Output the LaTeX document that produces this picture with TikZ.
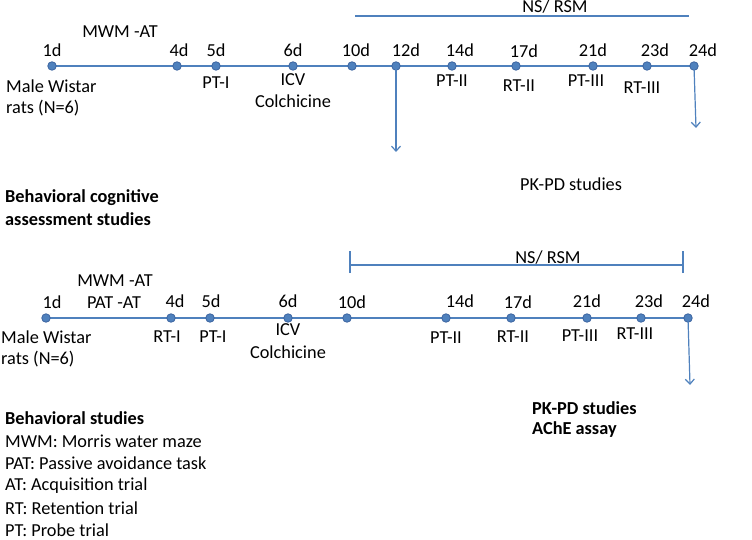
\documentclass[tikz,border=0pt]{standalone}
\usepackage{fontspec}
\setmainfont{Carlito}
\usetikzlibrary{arrows.meta}
\definecolor{lineblue}{RGB}{79,129,189}
\definecolor{dotblue}{RGB}{60,100,160}
\begin{document}
\begin{tikzpicture}[x=1pt,y=-1pt,
  txt/.style={font=\fontsize{18.3}{22}\selectfont, inner sep=0pt, text=black},
  btxt/.style={txt, font=\fontsize{18.3}{22}\selectfont\bfseries},
  dot/.style={circle, fill=lineblue, draw=dotblue, line width=0.8pt, minimum size=8.5pt, inner sep=0pt},
  tl/.style={draw=lineblue, line width=1.5pt},
  arr/.style={draw=lineblue, line width=1.2pt, -{Straight Barb[length=5pt,width=9pt]}}
]
\useasboundingbox (0,0) rectangle (752,540);
% ---------- top timeline ----------
\coordinate (a0) at (52,66);
\coordinate (a1) at (694,66);
\draw[tl] (a0) -- (a1);
\foreach \n/\x in {1/52,4/177,5/216,6/293,10/352,12/396,14/452,17/516,21/593,23/647,24/694}
  \node[dot] (a\n d) at (\x,66) {};
\node[txt] (la1) at (52,50) {1d};
\node[txt] (la4) at (179,50) {4d};
\node[txt] (la5) at (216,50) {5d};
\node[txt] (la6) at (293,50) {6d};
\node[txt] (la10) at (356,50) {10d};
\node[txt] (la12) at (406,50) {12d};
\node[txt] (la14) at (460,50) {14d};
\node[txt] (la17) at (524,51) {17d};
\node[txt] (la21) at (593,50) {21d};
\node[txt] (la23) at (655,50) {23d};
\node[txt] (la24) at (703,50) {24d};
\node[txt] (mwma) at (120,32) {MWM -AT};
\node[txt, anchor=west] (ma1) at (6,86) {Male Wistar};
\node[txt, anchor=west] (ma2) at (6,108) {rats (N=6)};
\node[txt] (pta1) at (216,83) {PT-I};
\node[txt] (icva) at (293,80) {ICV};
\node[txt] (cola) at (293,101) {Colchicine};
\node[txt] (pta2) at (452,81) {PT-II};
\node[txt] (rta2) at (519,86) {RT-II};
\node[txt] (pta3) at (586,81) {PT-III};
\node[txt] (rta3) at (642,88) {RT-III};
\coordinate (nsa0) at (355,16);
\coordinate (nsa1) at (689,16);
\draw[draw=lineblue, line width=1.2pt] (nsa0) -- (nsa1);
\node[txt] (nsa) at (555,7) {NS/ RSM};
\coordinate (arA) at (396,152);
\coordinate (arB) at (696,128);
\draw[arr] (a12d.center) -- (arA);
\draw[arr] (a24d.center) -- (arB);
\node[txt] (pkpda) at (571,184) {PK-PD studies};
\node[btxt, anchor=west] (bca1) at (5,198) {Behavioral cognitive};
\node[btxt, anchor=west] (bca2) at (5,219) {assessment studies};
% ---------- bottom timeline ----------
\coordinate (b0) at (46,318);
\coordinate (b1) at (688,318);
\draw[tl] (b0) -- (b1);
\foreach \n/\x in {1/46,4/171,5/210,6/288,10/347,14/446,17/511,21/587,23/641,24/688}
  \node[dot] (b\n d) at (\x,318) {};
\node[txt] (lb1) at (52,302) {1d};
\node[txt] (lb4) at (175,301) {4d};
\node[txt] (lb5) at (211,301) {5d};
\node[txt] (lb6) at (288,301) {6d};
\node[txt] (lb10) at (352,302) {10d};
\node[txt] (lb14) at (460,301) {14d};
\node[txt] (lb17) at (518,302) {17d};
\node[txt] (lb21) at (587,301) {21d};
\node[txt] (lb23) at (649,301) {23d};
\node[txt] (lb24) at (696,301) {24d};
\node[txt] (mwmb) at (115,281) {MWM -AT};
\node[txt] (patb) at (114,303) {PAT -AT};
\node[txt, anchor=west] (mb1) at (1,337) {Male Wistar};
\node[txt, anchor=west] (mb2) at (1,359) {rats (N=6)};
\node[txt] (rtb1) at (167,337) {RT-I};
\node[txt] (ptb1) at (213,337) {PT-I};
\node[txt] (icvb) at (288,330) {ICV};
\node[txt] (colb) at (288,352) {Colchicine};
\node[txt] (ptb2) at (446,338) {PT-II};
\node[txt] (rtb2) at (513,337) {RT-II};
\node[txt] (ptb3) at (580,336) {PT-III};
\node[txt] (rtb3) at (635,334) {RT-III};
\coordinate (nsb0) at (350,265);
\coordinate (nsb1) at (683,265);
\draw[draw=lineblue, line width=1.2pt] (nsb0) -- (nsb1);
\draw[draw=lineblue, line width=1.2pt] ([yshift=-8pt]nsb0) -- ([yshift=14pt]nsb0);
\draw[draw=lineblue, line width=1.2pt] ([yshift=-8pt]nsb1) -- ([yshift=14pt]nsb1);
\node[txt] (nsb) at (548,258) {NS/ RSM};
\coordinate (arC) at (690,385);
\draw[arr] (b24d.center) -- (arC);
\node[btxt, anchor=west] (pkpdb) at (532,408) {PK-PD studies};
\node[btxt, anchor=west] (acheb) at (532,430) {AChE assay};
\node[btxt, anchor=west] (bs) at (5,418) {Behavioral studies};
\node[txt, anchor=west] (k1) at (5,441) {MWM: Morris water maze};
\node[txt, anchor=west] (k2) at (5,463) {PAT: Passive avoidance task};
\node[txt, anchor=west] (k3) at (5,486) {AT: Acquisition trial};
\node[txt, anchor=west] (k4) at (5,508) {RT: Retention trial};
\node[txt, anchor=west] (k5) at (5,530) {PT: Probe trial};
\end{tikzpicture}
\end{document}
